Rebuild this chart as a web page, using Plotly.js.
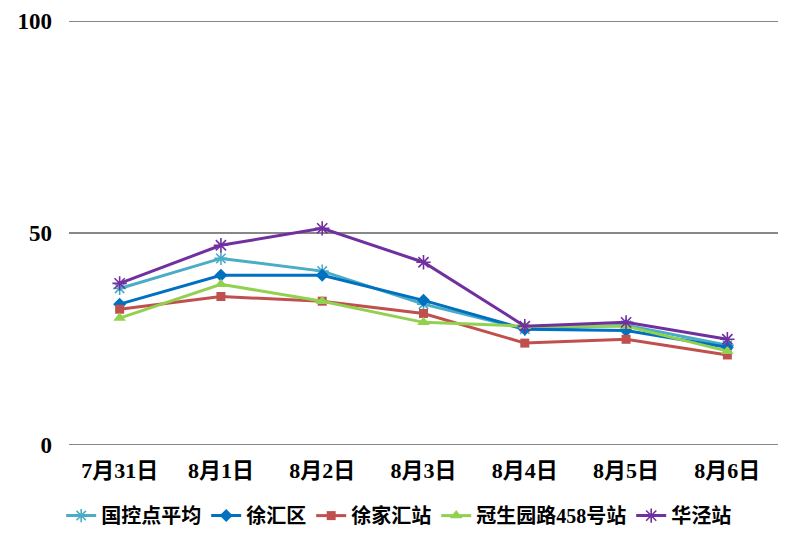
<!DOCTYPE html>
<html>
<head>
<meta charset="utf-8">
<script src="https://cdn.plot.ly/plotly-3.0.1.min.js"></script>
<style>
  html, body { margin: 0; padding: 0; background: #fff; }
  #chart { width: 794px; height: 546px; }
</style>
</head>
<body>
<div id="chart"></div>
<script>
// dates along the x axis
const dates = ["7月31日", "8月1日", "8月2日", "8月3日", "8月4日", "8月5日", "8月6日"];

// series values
const guokongAvg = [36.9, 44.0, 41.0, 33.2, 27.3, 28.2, 23.5];
const xuhuiDistrict = [33.2, 40.0, 40.0, 34.1, 27.3, 27.0, 23.0];
const xujiahuiStation = [32.0, 35.0, 33.9, 31.0, 24.0, 24.9, 21.2];
const guanshengyuanStation = [29.9, 37.9, 33.9, 28.9, 28.0, 28.0, 22.1];
const huajingStation = [38.1, 47.1, 51.1, 43.1, 28.0, 28.9, 24.9];

const yTicks = [0, 50, 100];

// serif digits, CJK glyphs fall back to Noto Sans CJK
const MIXED = "Liberation Serif, Noto Sans CJK SC, serif";
const SERIF = "Liberation Serif, DejaVu Serif, serif";

function series(name, y, color, symbol, size) {
    const open = symbol.startsWith("asterisk");
    return {
        x: dates,
        y: y,
        name: name,
        type: "scatter",
        mode: "lines+markers",
        line: { color: color, width: 3 },
        marker: {
            symbol: symbol,
            size: size,
            color: color,
            line: { color: color, width: open ? 1.6 : 0 },
        },
    };
}

const traces = [
    series("国控点平均", guokongAvg, "#4BACC6", "asterisk-open", 11),
    series("徐汇区", xuhuiDistrict, "#0070C0", "diamond", 10),
    series("徐家汇站", xujiahuiStation, "#C0504D", "square", 9),
    series("冠生园路458号站", guanshengyuanStation, "#92D050", "triangle-up", 11),
    series("华泾站", huajingStation, "#7030A0", "asterisk-open", 12),
];

const layout = {
    width: 794,
    height: 546,
    paper_bgcolor: "#fff",
    plot_bgcolor: "#fff",
    margin: { t: 20, b: 99, l: 69, r: 16 },
    showlegend: true,
    legend: {
        orientation: "h",
        x: 0.465,
        xanchor: "center",
        y: -0.115,
        yanchor: "top",
        font: { family: MIXED, size: 20, color: "#000", weight: "bold" },
        tracegroupgap: 0,
    },
    xaxis: {
        type: "category",
        range: [-0.5, 6.5],
        showgrid: false,
        zeroline: false,
        showline: false,
        ticks: "",
        tickfont: { family: MIXED, size: 22, color: "#000", weight: "bold" },
        ticklabelstandoff: 9,
    },
    yaxis: {
        range: [-0.3, 100.3],
        tickvals: yTicks,
        showgrid: true,
        gridcolor: "#888",
        gridwidth: 1.3,
        zeroline: false,
        showline: false,
        ticks: "",
        tickfont: { family: SERIF, size: 23, color: "#000", weight: "bold" },
        ticklabelstandoff: 16,
    },
};

Plotly.newPlot("chart", traces, layout, { displayModeBar: false, staticPlot: true });
</script>
</body>
</html>
